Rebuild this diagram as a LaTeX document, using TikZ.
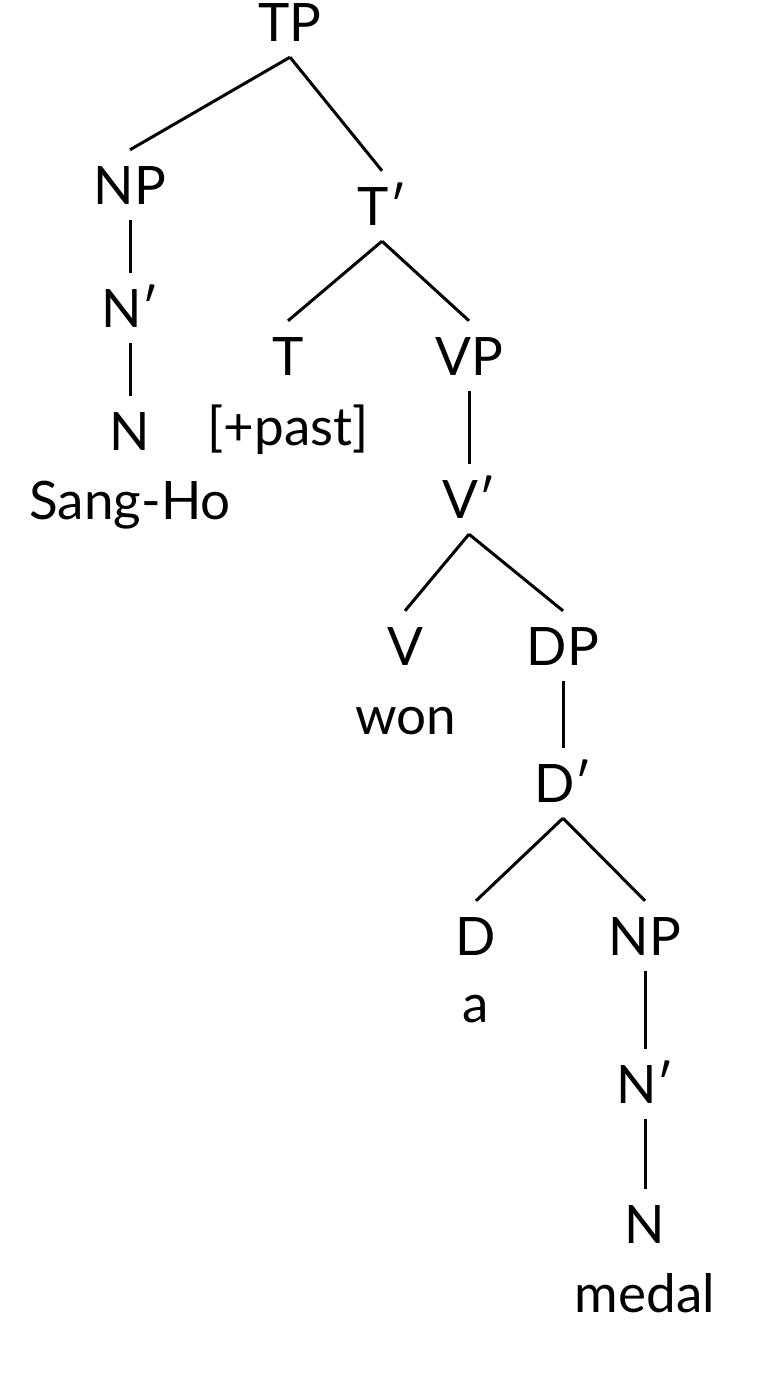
\documentclass[tikz,border=0pt]{standalone}
\usepackage{fontspec}
\setmainfont{Lato}
\tikzset{
  lbl/.style={anchor=base, inner sep=0pt, text height=38pt, text depth=0pt,
    font=\fontsize{53}{64}\selectfont},
  edge/.style={line width=3pt, line cap=butt}
}
\newcommand{\conn}[2]{\draw[edge] ([yshift=-16pt]#1.south) -- ([yshift=16pt]#2.north);}
\begin{document}
\begin{tikzpicture}[x=1pt,y=-1pt]
\useasboundingbox (0,0) rectangle (768,1392);
\node[lbl] (TP) at (290,41) {TP};
\node[lbl] (NPa) at (130,204) {NP};
\node[lbl] (Nba) at (130,327) {N′};
\node[lbl] (Na) at (130,450) {N};
\node[lbl] (sangho) at (130,519) {Sang-Ho};
\node[lbl] (Tb) at (382,225) {T′};
\node[lbl] (T) at (288,375) {T};
\node[lbl] (past) at (288,445) {[+past]};
\node[lbl] (VP) at (469,375) {VP};
\node[lbl] (Vb) at (469,518) {V′};
\node[lbl] (V) at (405,665) {V};
\node[lbl] (won) at (406,734) {won};
\node[lbl] (DP) at (563,665) {DP};
\node[lbl] (Db) at (563,802) {D′};
\node[lbl] (D) at (476,955) {D};
\node[lbl] (a) at (476,1022) {a};
\node[lbl] (NPb) at (645,955) {NP};
\node[lbl] (Nbb) at (645,1103) {N′};
\node[lbl] (Nb) at (645,1243) {N};
\node[lbl] (medal) at (645,1312) {medal};
\conn{TP}{NPa}
\conn{TP}{Tb}
\conn{NPa}{Nba}
\conn{Nba}{Na}
\conn{Tb}{T}
\conn{Tb}{VP}
\conn{VP}{Vb}
\conn{Vb}{V}
\conn{Vb}{DP}
\conn{DP}{Db}
\conn{Db}{D}
\conn{Db}{NPb}
\conn{NPb}{Nbb}
\conn{Nbb}{Nb}
\end{tikzpicture}
\end{document}
